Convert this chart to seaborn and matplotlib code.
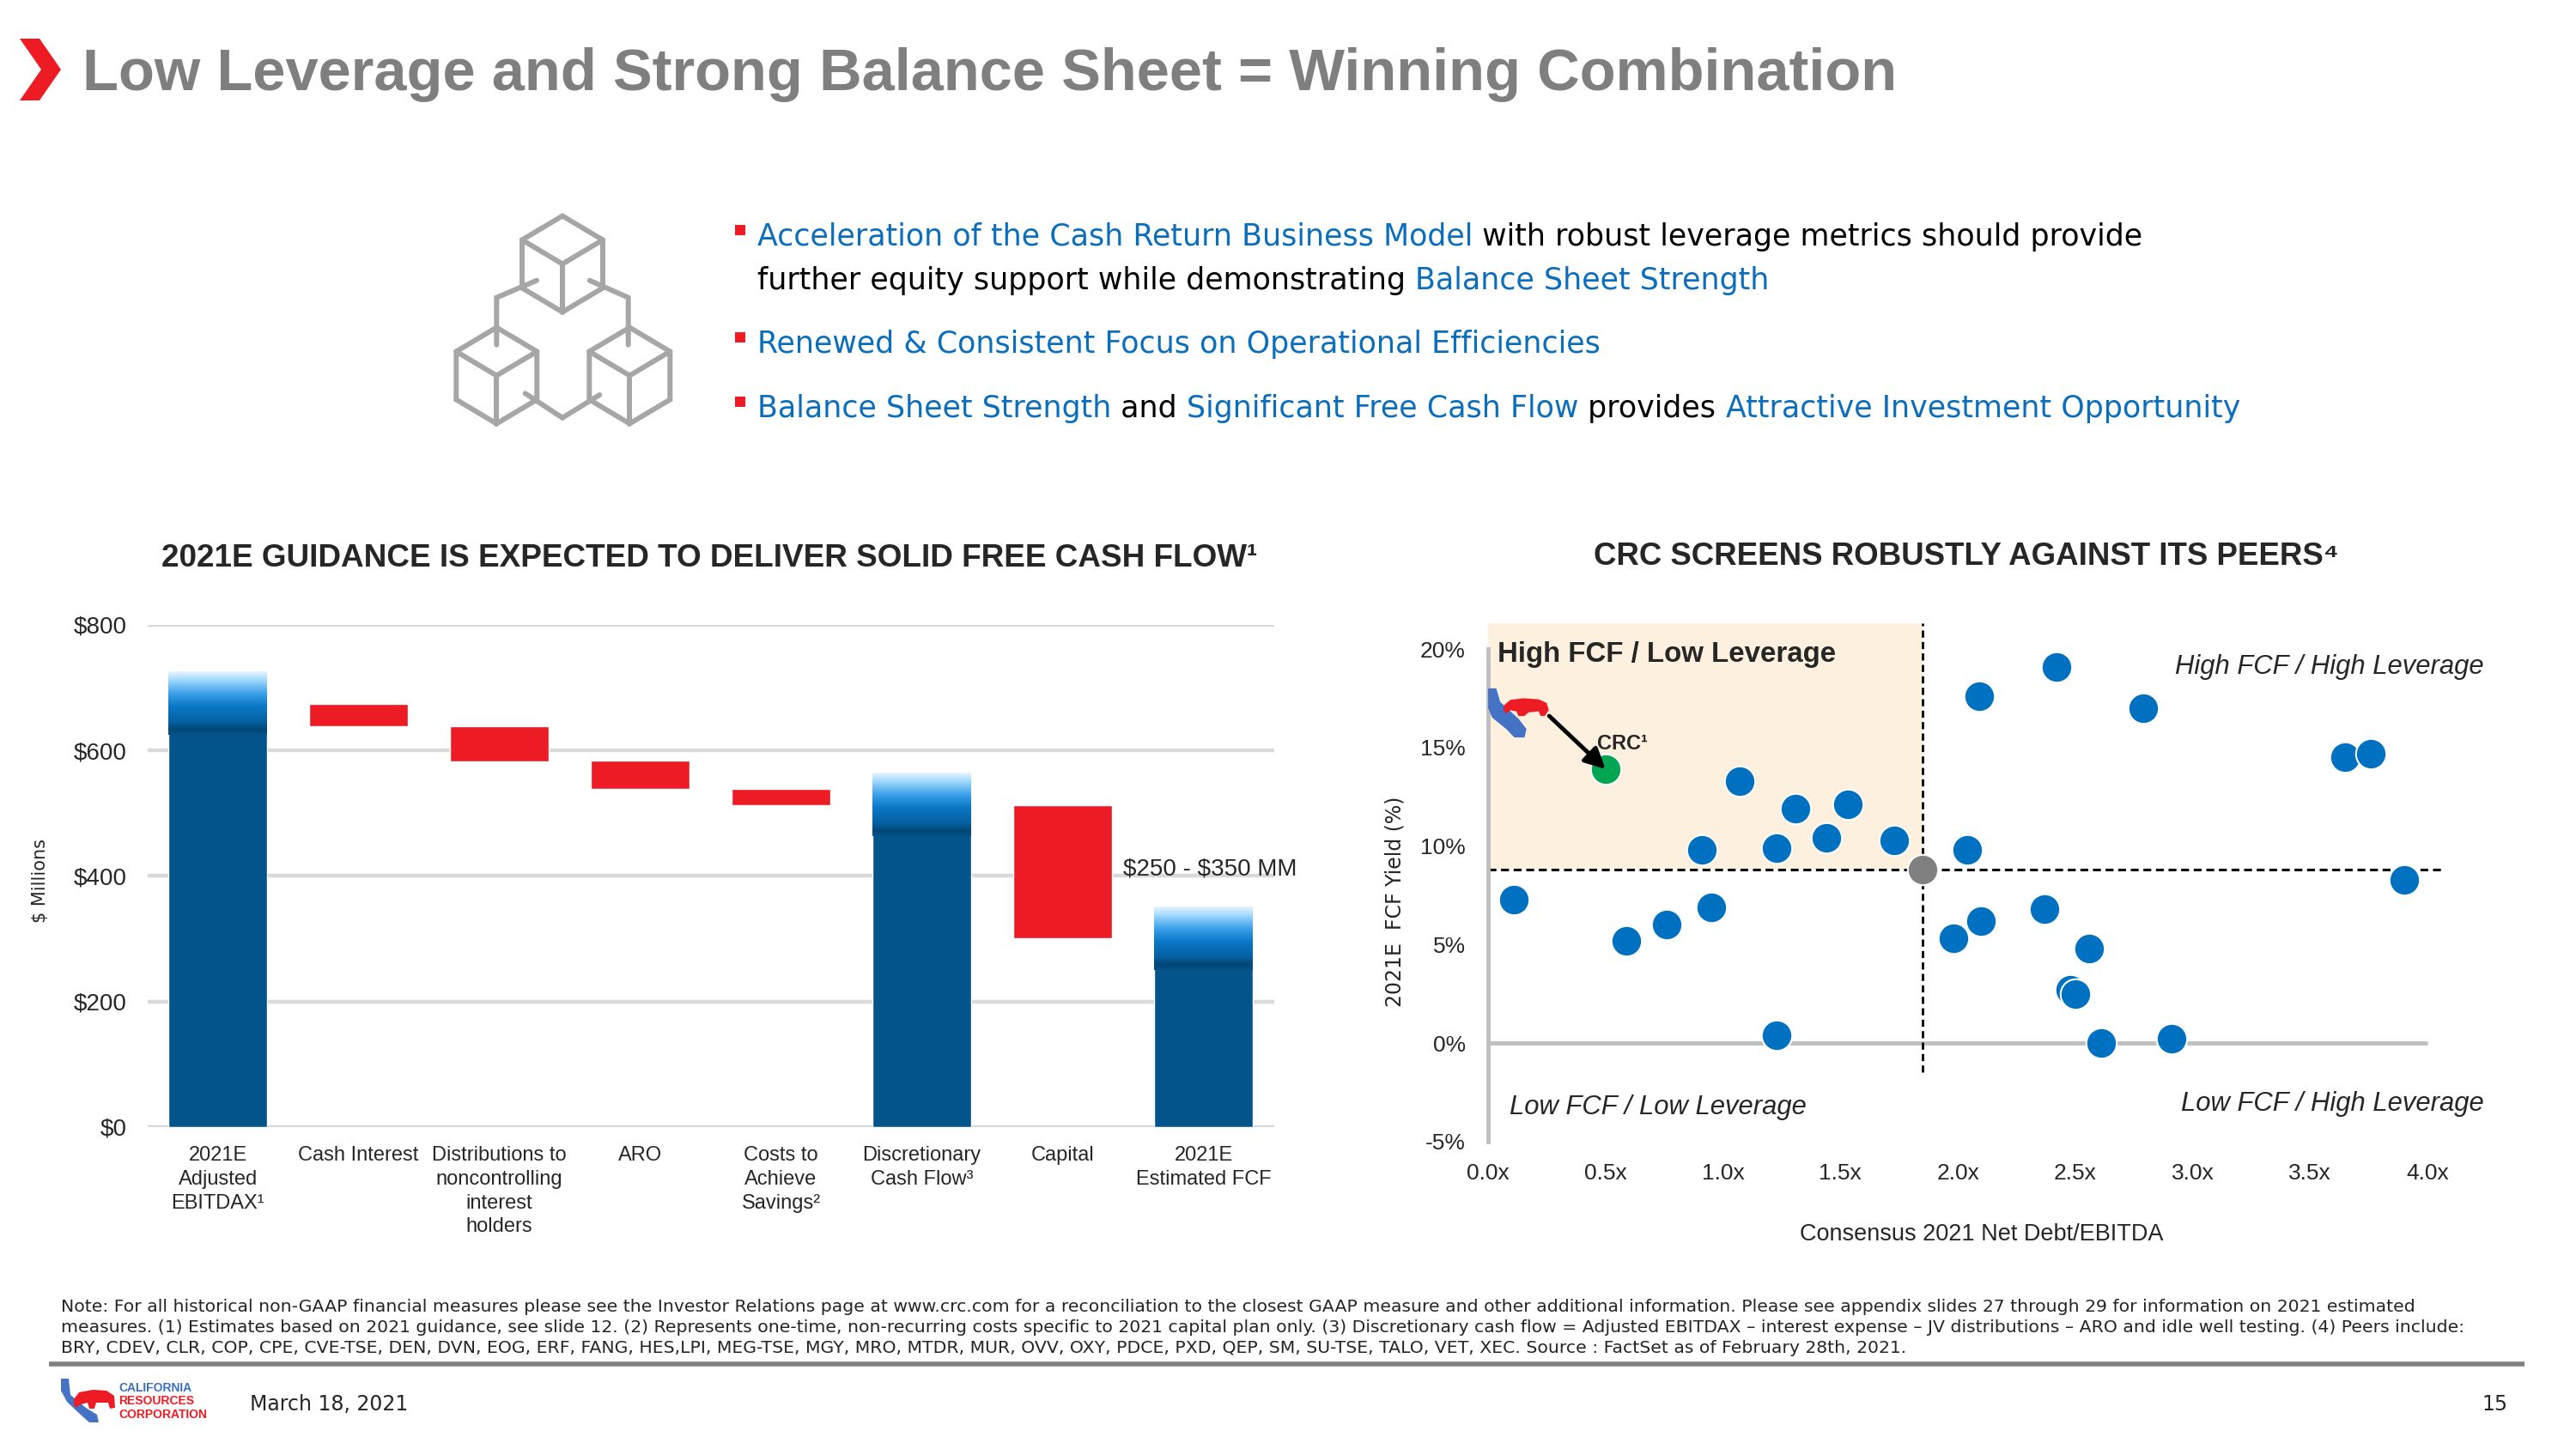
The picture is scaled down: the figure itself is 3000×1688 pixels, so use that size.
import numpy as np
import pandas as pd
import seaborn as sns
import matplotlib.pyplot as plt
from matplotlib.colors import LinearSegmentedColormap
from matplotlib.patches import Polygon, Rectangle

# left chart: 2021E cash flow walk, $ millions
steps = ["2021E\nAdjusted\nEBITDAX\u00b9", "Cash Interest",
         "Distributions to\nnoncontrolling\ninterest\nholders", "ARO",
         "Costs to\nAchieve\nSavings\u00b2", "Discretionary\nCash Flow\u00b3",
         "Capital", "2021E\nEstimated FCF"]
step_low = [0, 638, 583, 538, 513, 0, 301, 0]
step_high = [725, 674, 639, 584, 539, 563, 513, 350]
step_kind = ["total", "drop", "drop", "drop", "drop", "total", "drop", "total"]
money_ticks = [0, 200, 400, 600, 800]
range_note = r"\$250 - \$350 MM"
range_note_y = 411

# right chart: peers, consensus 2021 net debt/EBITDA vs 2021E FCF yield (%)
peer_lev = [0.11, 0.59, 0.76, 0.91, 0.95, 1.07, 1.23, 1.23, 1.31, 1.44, 1.53, 1.73, 1.98, 2.04,
            2.09, 2.10, 2.37, 2.42, 2.48, 2.50, 2.56, 2.61, 2.79, 2.91, 3.65, 3.76, 3.90]
peer_fcf = [7.3, 5.2, 6.0, 9.8, 6.9, 13.3, 9.9, 0.4, 11.9, 10.4, 12.1, 10.3, 5.3, 9.8,
            17.6, 6.2, 6.8, 19.1, 2.7, 2.5, 4.8, 0.0, 17.0, 0.2, 14.5, 14.7, 8.3]
crc_lev, crc_fcf = 0.50, 13.9
median_lev, median_fcf = 1.85, 8.8
lev_ticks = [0, 0.5, 1.0, 1.5, 2.0, 2.5, 3.0, 3.5, 4.0]
fcf_ticks = [-5, 0, 5, 10, 15, 20]

BLUE = "#04548c"
RED = "#ed1c24"
DOT = "#0070c0"
LINK = "#0a6ebd"
ICON = "#a6a6a6"
CHART_FONT = ["Liberation Sans", "DejaVu Sans"]
BODY_FONT = ["DejaVu Sans"]

sns.set_style("white")
plt.rcParams["font.family"] = CHART_FONT

fig = plt.figure(figsize=(30, 16.88), dpi=100)
fig.patch.set_facecolor("white")

# full-page overlay in pixel units for the slide furniture
bg = fig.add_axes([0, 0, 1, 1])
bg.set_xlim(0, 3000)
bg.set_ylim(1688, 0)
bg.axis("off")

# title + chevron
bg.add_patch(Polygon([(23, 45), (46, 45), (71, 81), (46, 117), (23, 117), (48, 81)],
                     closed=True, color=RED, lw=0))
bg.text(96, 105, "Low Leverage and Strong Balance Sheet = Winning Combination",
        fontsize=49.4, fontweight="bold", color="#7f7f7f", va="baseline")

# cube icon
def cube(cx, cy, r=56, hw=47):
    pts = [(cx, cy - r), (cx + hw, cy - r / 2), (cx + hw, cy + r / 2), (cx, cy + r),
           (cx - hw, cy + r / 2), (cx - hw, cy - r / 2)]
    bg.add_patch(Polygon(pts, closed=True, fill=False, ec=ICON, lw=4.3, joinstyle="miter"))
    for px, py in [pts[1], pts[3], pts[5]]:
        bg.plot([cx, px], [cy, py], color=ICON, lw=4.3)

cube(655, 307.5)
cube(578.3, 437.5)
cube(733.3, 437.5)
for path in [[(625, 326.7), (578.3, 346.7), (578.3, 401.7)],
             [(686.7, 326.7), (731.7, 346.7), (731.7, 401.7)],
             [(611.7, 458.3), (655, 486.7), (698.3, 460)]]:
    px, py = zip(*path)
    bg.plot(px, py, color=ICON, lw=4.3, solid_joinstyle="miter")

# bullet text with coloured runs
renderer = fig.canvas.get_renderer()

def text_run(x, y, parts, **kw):
    done = ""
    probe = bg.text(0, 0, "|", **kw)
    w_bar = probe.get_window_extent(renderer).width
    for s, c in parts:
        off = 0
        if done:
            probe.set_text(done + "|")
            off = probe.get_window_extent(renderer).width - w_bar
        bg.text(x + off, y, s, color=c, **kw)
        done += s
    probe.remove()

bullet_kw = dict(fontsize=25.1, va="center", family=BODY_FONT)
bullets = [
    (276, [("Acceleration of the Cash Return Business Model", LINK),
           (" with robust leverage metrics should provide", "black")], True),
    (327, [("further equity support while demonstrating ", "black"),
           ("Balance Sheet Strength", LINK)], False),
    (401, [("Renewed & Consistent Focus on Operational Efficiencies", LINK)], True),
    (476, [("Balance Sheet Strength", LINK), (" and ", "black"),
           ("Significant Free Cash Flow", LINK), (" provides ", "black"),
           ("Attractive Investment Opportunity", LINK)], True),
]
for y, parts, marker in bullets:
    if marker:
        bg.add_patch(Rectangle((856, y - 14), 12, 12, color=RED, lw=0))
    text_run(882, y, parts, **bullet_kw)

# chart headings
bg.text(826, 650, "2021E GUIDANCE IS EXPECTED TO DELIVER SOLID FREE CASH FLOW\u00b9",
        fontsize=26.6, fontweight="bold", ha="center", va="center")
bg.text(2290, 648, "CRC SCREENS ROBUSTLY AGAINST ITS PEERS\u2074",
        fontsize=26.4, fontweight="bold", ha="center", va="center")

# ---------------- left: waterfall ----------------
ax1 = fig.add_axes([0.0572, 0.2222, 0.4373, 0.3466])
walk = pd.DataFrame({"step": steps,
                     "height": np.subtract(step_high, step_low),
                     "low": step_low})
sns.barplot(data=walk, x="step", y="height", bottom=walk["low"].to_numpy(),
            width=0.7, color=BLUE, saturation=1, ax=ax1, zorder=3)

top_cmap = LinearSegmentedColormap.from_list(
    "bar_top", [(0, "#e8f5ff"), (0.12, "#a8dcff"), (0.35, "#3aa0e8"), (0.55, "#0a78c8"),
                (0.8, "#0560a0"), (0.92, "#004574"), (1.0, BLUE)])
grad = np.linspace(0, 1, 256).reshape(-1, 1)
for bar, kind in zip(ax1.patches, step_kind):
    if kind == "drop":
        bar.set_facecolor(RED)
    else:
        x0, w = bar.get_x(), bar.get_width()
        top = bar.get_y() + bar.get_height()
        ax1.imshow(grad, extent=(x0, x0 + w, top - 100, top), aspect="auto",
                   cmap=top_cmap, origin="upper", zorder=4)

cap_bar = ax1.patches[steps.index("Capital")]
ax1.text(cap_bar.get_x() + cap_bar.get_width() + 0.08, range_note_y, range_note,
         fontsize=20, va="center", zorder=5)

ax1.set_xlim(-0.5, len(steps) - 0.5)
ax1.set_ylim(0, 800)
ax1.set_yticks(money_ticks)
ax1.set_yticklabels([f"${v}" for v in money_ticks])
ax1.grid(axis="y", color="#d9d9d9", lw=3.2)
ax1.grid(axis="x", visible=False)
ax1.set_axisbelow(True)
sns.despine(ax=ax1, left=True, bottom=True)
ax1.tick_params(axis="y", length=0, pad=17, labelsize=20)
ax1.tick_params(axis="x", length=0, pad=16, labelsize=17)
for lbl in ax1.get_xticklabels():
    lbl.set_linespacing(1.34)
ax1.set_xlabel("")
ax1.set_ylabel("$ Millions", fontsize=15, family=BODY_FONT)
ax1.yaxis.set_label_coords(-0.087, 0.49)

# ---------------- right: peer scatter ----------------
ax2 = fig.add_axes([0.5777, 0.2122, 0.392, 0.3603])
ax2.set_xlim(0, 4.3)
ax2.set_ylim(-5, 21.5)
ax2.add_patch(Rectangle((0, median_fcf), median_lev, 21.3 - median_fcf,
                        color="#fdf0de", lw=0, zorder=0))
ax2.hlines(0, 0, lev_ticks[-1], color="#bfbfbf", lw=3.5, zorder=1)
ax2.hlines(median_fcf, 0, 4.07, color="black", lw=2.2, linestyle=(0, (3, 1.8)), zorder=2)
ax2.vlines(median_lev, -1.5, 21.3, color="black", lw=2, linestyle=(0, (3, 1.8)), zorder=2)

sns.scatterplot(x=peer_lev, y=peer_fcf, s=650, color=DOT, edgecolor="white",
                linewidth=1.5, ax=ax2, zorder=5)
sns.scatterplot(x=[median_lev], y=[median_fcf], s=650, color="#808080",
                edgecolor="white", linewidth=1.5, ax=ax2, zorder=5)
sns.scatterplot(x=[crc_lev], y=[crc_fcf], s=650, color="#00a651",
                edgecolor="white", linewidth=1.5, ax=ax2, zorder=6)

# CRC logo (California + bear) and arrow
ca = [(0.000, 0.868), (0.008, 0.868), (0.012, 0.842), (0.030, 0.810), (0.038, 0.790),
      (0.036, 0.774), (0.026, 0.774), (0.018, 0.790), (0.004, 0.812), (0.000, 0.830)]
bear = [(0.016, 0.836), (0.022, 0.846), (0.035, 0.849), (0.050, 0.847), (0.058, 0.840),
        (0.060, 0.826), (0.056, 0.815), (0.052, 0.815), (0.050, 0.824), (0.040, 0.822),
        (0.036, 0.815), (0.030, 0.815), (0.028, 0.824), (0.022, 0.826), (0.018, 0.820),
        (0.015, 0.826)]
ax2.add_patch(Polygon(ca, closed=True, color="#4472c4", lw=0, transform=ax2.transAxes, zorder=3))
ax2.add_patch(Polygon(bear, closed=True, color=RED, lw=0, transform=ax2.transAxes, zorder=4))
ax2.annotate("", xy=(crc_lev, crc_fcf), xytext=(0.26, 16.6),
             arrowprops=dict(arrowstyle="-|>", color="black", lw=3.5, mutation_scale=36,
                             shrinkA=0, shrinkB=0), zorder=7)
ax2.annotate("CRC\u00b9", xy=(crc_lev, crc_fcf), xytext=(-7, 13), textcoords="offset points",
             fontsize=17, fontweight="bold", va="bottom", zorder=7)

ax2.text(0.04, 19.7, "High FCF / Low Leverage", fontsize=23.8, fontweight="bold", va="center")
ax2.text(4.24, 19.1, "High FCF / High Leverage", fontsize=22.3, style="italic",
         ha="right", va="center")
ax2.text(0.09, -3.26, "Low FCF / Low Leverage", fontsize=22.3, style="italic", va="center")
ax2.text(4.24, -3.1, "Low FCF / High Leverage", fontsize=22.3, style="italic",
         ha="right", va="center")

ax2.set_xticks(lev_ticks)
ax2.set_xticklabels([f"{v:.1f}x" for v in lev_ticks])
ax2.set_yticks(fcf_ticks)
ax2.set_yticklabels([f"{v}%" for v in fcf_ticks])
ax2.grid(False)
sns.despine(ax=ax2, bottom=True)
ax2.spines["left"].set_bounds(-5, 20)
ax2.spines["left"].set_color("#bfbfbf")
ax2.spines["left"].set_linewidth(3.5)
ax2.tick_params(axis="y", length=0, pad=19, labelsize=19)
ax2.tick_params(axis="x", length=0, pad=18, labelsize=19)
ax2.set_xlabel("Consensus 2021 Net Debt/EBITDA", fontsize=19.5)
ax2.xaxis.set_label_coords(0.489, -0.157)
ax2.set_ylabel("2021E  FCF Yield (%)", fontsize=17, family=BODY_FONT)
ax2.yaxis.set_label_coords(-0.082, 0.46)

# footnote and footer
notes = [
    "Note: For all historical non-GAAP financial measures please see the Investor Relations page at www.crc.com "
    "for a reconciliation to the closest GAAP measure and other additional information. Please see appendix slides "
    "27 through 29 for information on 2021 estimated",
    "measures. (1) Estimates based on 2021 guidance, see slide 12. (2) Represents one-time, non-recurring costs "
    "specific to 2021 capital plan only. (3) Discretionary cash flow = Adjusted EBITDAX \u2013 interest expense "
    "\u2013 JV distributions \u2013 ARO and idle well testing. (4) Peers include:",
    "BRY, CDEV, CLR, COP, CPE, CVE-TSE, DEN, DVN, EOG, ERF, FANG, HES,LPI, MEG-TSE, MGY, MRO, MTDR, MUR, OVV, "
    "OXY, PDCE, PXD, QEP, SM, SU-TSE, TALO, VET, XEC. Source : FactSet as of February 28th, 2021.",
]
for i, line in enumerate(notes):
    bg.text(71, 1523 + 23.5 * i, line, fontsize=14.7, va="center", family=BODY_FONT)
bg.plot([57, 2940], [1589, 1589], color="#808080", lw=4, solid_capstyle="butt")

logo_ca = [(71, 1606), (80, 1606), (82, 1625), (100, 1640), (113, 1648), (115, 1657),
           (104, 1657), (96, 1650), (78, 1633), (71, 1620)]
logo_bear = [(86, 1630), (92, 1622), (108, 1619), (124, 1620), (133, 1626), (134, 1640),
             (128, 1641), (126, 1634), (112, 1634), (110, 1641), (104, 1641), (102, 1634),
             (94, 1636), (88, 1640), (86, 1636)]
bg.add_patch(Polygon(logo_ca, closed=True, color="#4472c4", lw=0))
bg.add_patch(Polygon(logo_bear, closed=True, color=RED, lw=0))
for yy, word, col in [(1617, "CALIFORNIA", "#3a6fc4"), (1632, "RESOURCES", RED),
                      (1648, "CORPORATION", RED)]:
    bg.text(138, yy, word, fontsize=10, fontweight="bold", color=col, va="center")
bg.text(291, 1636, "March 18, 2021", fontsize=17, va="center", family=BODY_FONT)
bg.text(2921, 1636, "15", fontsize=17, va="center", ha="right", family=BODY_FONT)

fig.savefig("out.png", dpi=100, facecolor="white")
